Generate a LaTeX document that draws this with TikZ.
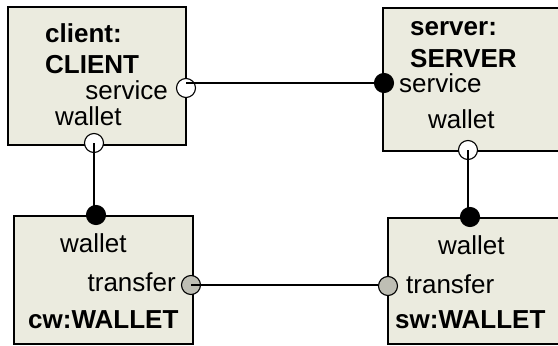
\documentclass[tikz,border=0pt]{standalone}
\usepackage{fontspec}
\setmainfont{Liberation Sans}
\definecolor{partfill}{RGB}{235,235,223}
\definecolor{portgray}{RGB}{190,190,180}

\begin{document}
\begin{tikzpicture}[x=1pt,y=-1pt,
  part/.style={draw,line width=1.6pt,fill=partfill,anchor=north west,inner sep=0},
  lbl/.style={inner sep=0,anchor=base west,font=\fontsize{26}{30}\selectfont},
  bold/.style={lbl,font=\fontsize{26}{30}\selectfont\bfseries},
  port/.style={circle,draw,line width=1.1pt,minimum size=19pt,inner sep=0},
  openport/.style={port,fill=white},
  plugport/.style={port,fill=black},
  grayport/.style={port,fill=portgray},
  wire/.style={line width=1.1pt}]
  \useasboundingbox (0,0) rectangle (558,346);
  \clip (0,0) rectangle (558,346);
  %% parts
  \node[part,minimum width=178pt,minimum height=138pt] (client) at (7,6) {};
  \node[part,minimum width=190pt,minimum height=143pt] (server) at (382,7) {};
  \node[part,minimum width=179pt,minimum height=128pt] (cw) at (13,215) {};
  \node[part,minimum width=190pt,minimum height=126pt] (sw) at (387,217) {};
  %% client: CLIENT
  \node[bold] (clientname) at (45,42) {client:};
  \node[bold] (clienttype) at (45,73) {CLIENT};
  \node[lbl,anchor=base east] (clientsvc) at (168,99) {service};
  \node[lbl] (clientwal) at (55,125) {wallet};
  %% server: SERVER
  \node[bold] (servername) at (410,35) {server:};
  \node[bold] (servertype) at (410,67) {SERVER};
  \node[lbl] (serversvc) at (399,92) {service};
  \node[lbl] (serverwal) at (428,128) {wallet};
  %% cw:WALLET
  \node[lbl] (cwwal) at (60,252) {wallet};
  \node[lbl,anchor=base east] (cwtrans) at (176,291) {transfer};
  \node[bold] (cwname) at (28,328) {cw:WALLET};
  %% sw:WALLET
  \node[lbl] (swwal) at (438,254) {wallet};
  \node[lbl] (swtrans) at (406,293) {transfer};
  \node[bold] (swname) at (395,328) {sw:WALLET};
  %% ports
  \node[openport] (csvc) at (186,88) {};
  \node[openport] (cwall) at (94,143) {};
  \node[plugport] (ssvc) at (384,83) {};
  \node[openport] (swall) at (468,150) {};
  \node[plugport] (cwplug) at (96,215) {};
  \node[grayport] (cwtr) at (191,285) {};
  \node[plugport] (swplug) at (470,217) {};
  \node[grayport] (swtr) at (388,286) {};
  %% connectors
  \draw[wire] (ssvc.center) -- (ssvc.center -| csvc.center);
  \draw[wire] (cwall.center) -- (cwall.center |- cwplug.center);
  \draw[wire] (swall.center) -- (swall.center |- swplug.center);
  \draw[wire] (cwtr.center) -- (cwtr.center -| swtr.west);
\end{tikzpicture}
\end{document}
